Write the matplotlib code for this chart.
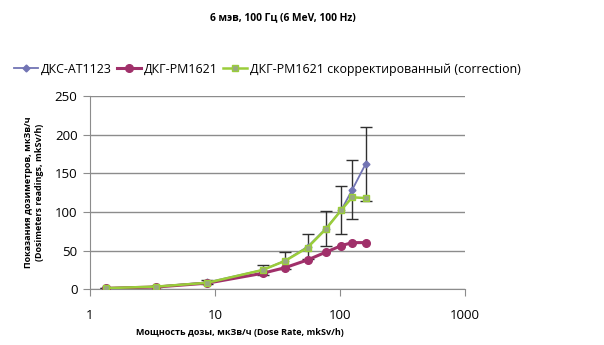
import matplotlib.pyplot as plt
import numpy as np

plt.rcParams['font.family'] = ['Open Sans', 'DejaVu Sans']

# dose rate, mkSv/h
dose_rate = [1.34, 3.4, 8.7, 24, 36.3, 55, 76.8, 102.5, 125, 160]
# readings
at1123 = [1.5, 3.5, 9, 25, 37, 55, 78.5, 102.7, 128.6, 162]
rm1621 = [1.3, 3.0, 8, 20.7, 28, 38, 48, 56.5, 60.4, 60.4]
rm1621_corr = [1.5, 3.5, 8.5, 25, 36.7, 54, 77.7, 102.7, 119, 118]
at1123_err = [0.4, 1.0, 2.7, 7, 11, 16, 23, 31, 38, 48]

series_names = ['ДКС-АТ1123', 'ДКГ-РМ1621', 'ДКГ-РМ1621 скорректированный (correction)']

fig = plt.figure(figsize=(6.04, 3.45), dpi=100)
ax = fig.add_axes([0.149, 0.1614, 0.621, 0.5603])

ax.errorbar(dose_rate, at1123, yerr=at1123_err, fmt='none', ecolor='#303030',
            elinewidth=1.0, capsize=4, capthick=1.0, zorder=2)
ax.plot(dose_rate, at1123, color='#7274B4', lw=1.3, marker='D', ms=3.5,
        label=series_names[0], zorder=3)
ax.plot(dose_rate, rm1621, color='#A0306A', lw=2.2, marker='o', ms=5.5,
        label=series_names[1], zorder=4)
ax.plot(dose_rate, rm1621_corr, color='#9ACD3A', lw=1.8, marker='s', ms=5,
        mfc='#98A882', mec='#9ACD3A', mew=1.0, label=series_names[2], zorder=5)

ax.set_xscale('log')
ax.set_xlim(1, 1000)
ax.set_ylim(0, 250)
ax.set_yticks(np.arange(0, 251, 50))
ax.set_xticks([1, 10, 100, 1000])
ax.set_xticklabels(['1', '10', '100', '1000'])
ax.minorticks_off()
ax.grid(axis='y', color='#8c8c8c', lw=1.0)
ax.set_axisbelow(True)
for s in ['top', 'right']:
    ax.spines[s].set_visible(False)
ax.spines['left'].set_color('#8c8c8c')
ax.spines['bottom'].set_color('#8c8c8c')
ax.tick_params(axis='y', length=5, color='#8c8c8c', labelsize=9.5, pad=4)
ax.tick_params(axis='x', length=5, color='#8c8c8c', labelsize=9.5, pad=9)

ax.set_xlabel('Мощность дозы, мкЗв/ч (Dose Rate, mkSv/h)', fontsize=6.5,
              fontweight='bold', labelpad=8)
ax.xaxis.set_label_coords(0.4, -0.2)
ax.set_ylabel('Показания дозиметров, мкЗв/ч\n(Dosimeters readings, mkSv/h)',
              fontsize=6.5, fontweight='bold', labelpad=8)

fig.text(0.469, 0.95, '6 мэв, 100 Гц (6 MeV, 100 Hz)', ha='center', va='center',
         fontsize=7.4, fontweight='bold')

fig.legend(loc='center left', bbox_to_anchor=(0.005, 0.80), ncol=3, frameon=False,
           fontsize=8.9, handlelength=1.9, handletextpad=0.3, columnspacing=0.4)

fig.savefig('out.png', dpi=100)
